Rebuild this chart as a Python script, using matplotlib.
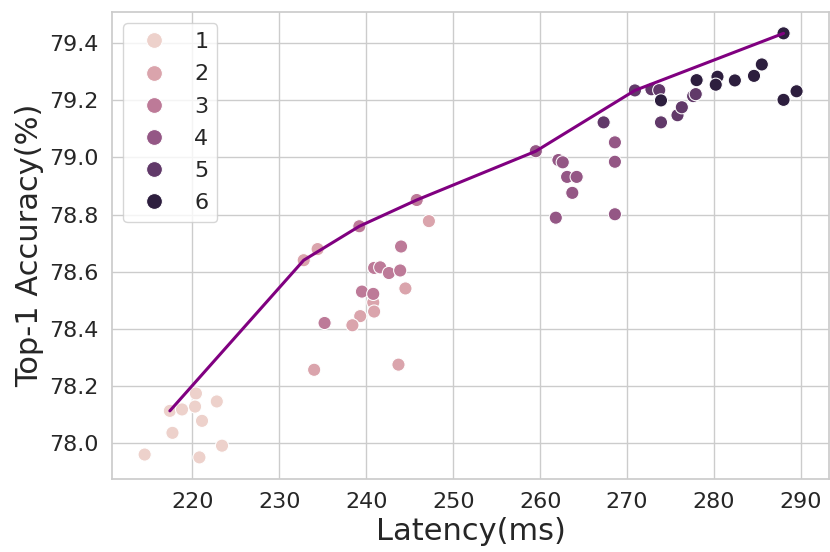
import matplotlib
matplotlib.use("Agg")
import matplotlib.pyplot as plt
import seaborn as sns
import pandas as pd

# measured points: latency (ms), top-1 accuracy (%), group id
latency = [217.4, 218.8, 220.4, 220.3, 222.8, 221.1, 217.7, 214.5, 220.8, 223.4,
           232.8, 234.4, 247.2, 244.5, 240.8, 240.9, 239.3, 238.4, 234.0, 243.7,
           239.2, 245.8, 244.0, 240.9, 241.6, 242.6, 243.9, 239.5, 240.8, 235.2,
           259.5, 262.1, 262.6, 263.1, 264.2, 263.7, 261.8, 268.6, 268.6, 268.6,
           267.3, 270.9, 272.8, 273.7, 273.9, 275.8, 276.3, 277.6, 277.9,
           273.9, 278.0, 280.4, 280.2, 282.4, 284.6, 285.5, 288.0, 288.0, 289.5]
accuracy = [78.112, 78.117, 78.173, 78.127, 78.145, 78.077, 78.035, 77.959, 77.949, 77.990,
            78.640, 78.679, 78.777, 78.541, 78.492, 78.460, 78.444, 78.412, 78.256, 78.274,
            78.759, 78.851, 78.688, 78.613, 78.615, 78.595, 78.604, 78.530, 78.522, 78.420,
            79.022, 78.991, 78.983, 78.932, 78.932, 78.876, 78.789, 79.053, 78.985, 78.801,
            79.123, 79.235, 79.239, 79.236, 79.123, 79.148, 79.176, 79.215, 79.222,
            79.200, 79.271, 79.283, 79.255, 79.270, 79.286, 79.326, 79.435, 79.202, 79.232]
group = [1] * 10 + [2] * 10 + [3] * 10 + [4] * 10 + [5] * 9 + [6] * 10

# pareto front line
front_lat = [217.4, 232.8, 239.2, 245.8, 259.5, 270.9, 288.0]
front_acc = [78.112, 78.640, 78.759, 78.851, 79.022, 79.235, 79.435]

df = pd.DataFrame({"Latency": latency, "Accuracy": accuracy, "group": group})

sns.set_theme(style="whitegrid")

fig, ax = plt.subplots(figsize=(8.3, 5.52), dpi=100)
fig.subplots_adjust(left=0.135, right=0.999, bottom=0.133, top=0.978)

sns.scatterplot(data=df, x="Latency", y="Accuracy", hue="group", s=90,
                legend="full", ax=ax, zorder=3)
ax.plot(front_lat, front_acc, color="purple", linewidth=2.2, zorder=4)

handles, labels = ax.get_legend_handles_labels()
ax.legend(handles, labels, loc="upper left", fontsize=16, markerscale=1.2,
          labelspacing=0.55)

ax.set_xticks([220, 230, 240, 250, 260, 270, 280, 290])
ax.set_yticks([78.0, 78.2, 78.4, 78.6, 78.8, 79.0, 79.2, 79.4])
ax.tick_params(labelsize=16)
ax.set_xlabel("Latency(ms)", fontsize=22)
ax.set_ylabel("Top-1 Accuracy(%)", fontsize=22)

plt.savefig("out.png")
